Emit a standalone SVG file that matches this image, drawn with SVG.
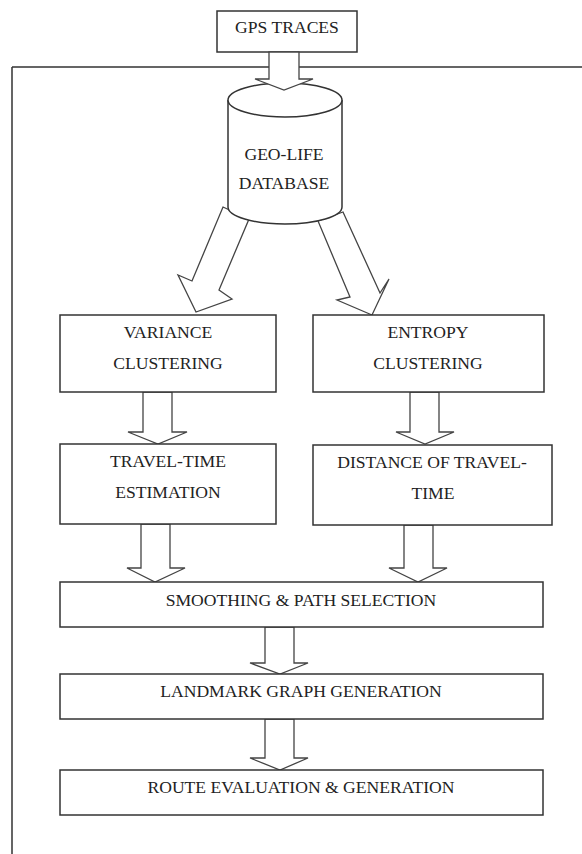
<svg xmlns="http://www.w3.org/2000/svg" width="582" height="854" viewBox="0 0 582 854">
<style>
.box{fill:#fff;stroke:#333;stroke-width:1.5}
.arr{fill:#fff;stroke:#444;stroke-width:1.3;stroke-linejoin:miter}
.ln{fill:none;stroke:#333;stroke-width:1.5}
text{font-family:"Liberation Serif","Times New Roman",serif;font-size:17.6px;fill:#222;text-anchor:middle}
</style>
<rect width="582" height="854" fill="#fff"/>
<g id="frame">
<path class="ln" d="M12,67 H582 M12,67 V854"/>
</g>
<g id="gps">
<rect class="box" x="217" y="11" width="140" height="41"/>
<text x="287" y="33">GPS TRACES</text>
</g>
<g id="connectors">
<polygon class="arr" points="223,207 249,219 219,290 232,299 196,312 178,275 192,281"/>
<polygon class="arr" points="318,221 343,212 380,293 389,279 372,315 337,300 350,297"/>
</g>
<g id="database">
<path class="box" d="M228,100 V207 A57,17 0 0 0 342,207 V100"/>
<ellipse class="box" cx="285" cy="100" rx="57" ry="17"/>
<text x="284" y="160">GEO-LIFE</text>
<text x="284" y="189">DATABASE</text>
</g>
<g id="connectors2">
<polygon class="arr" points="269,52 299,52 299,79 313,79 284,90 255,79 269,79"/>
<polygon class="arr" points="143,392 172,392 172,432 187,432 158,444 128,432 143,432"/>
<polygon class="arr" points="410,392 439,392 439,432 454,432 425,444 396,432 410,432"/>
<polygon class="arr" points="141,524 170,524 170,568 185,568 155,582 127,568 141,568"/>
<polygon class="arr" points="404,525 433,525 433,568 447,568 418,582 389,568 404,568"/>
<polygon class="arr" points="265,627 294,627 294,663 308,663 280,674 250,663 265,663"/>
<polygon class="arr" points="265,719 294,719 294,758 308,758 280,770 250,758 265,758"/>
</g>
<g id="variance">
<rect class="box" x="60" y="315" width="216" height="77"/>
<text x="168" y="338">VARIANCE</text>
<text x="168" y="369">CLUSTERING</text>
</g>
<g id="entropy">
<rect class="box" x="313" y="315" width="231" height="77"/>
<text x="428" y="338">ENTROPY</text>
<text x="428" y="369">CLUSTERING</text>
</g>
<g id="traveltime">
<rect class="box" x="60" y="444" width="216" height="80"/>
<text x="168" y="467">TRAVEL-TIME</text>
<text x="168" y="498">ESTIMATION</text>
</g>
<g id="distance">
<rect class="box" x="313" y="445" width="239" height="80"/>
<text x="432" y="468">DISTANCE OF TRAVEL-</text>
<text x="433" y="499">TIME</text>
</g>
<g id="smoothing">
<rect class="box" x="60" y="582" width="483" height="45"/>
<text x="301" y="606">SMOOTHING &amp; PATH SELECTION</text>
</g>
<g id="landmark">
<rect class="box" x="60" y="674" width="483" height="45"/>
<text x="301" y="697">LANDMARK GRAPH GENERATION</text>
</g>
<g id="route">
<rect class="box" x="60" y="770" width="483" height="45"/>
<text x="301" y="793">ROUTE EVALUATION &amp; GENERATION</text>
</g>
</svg>
